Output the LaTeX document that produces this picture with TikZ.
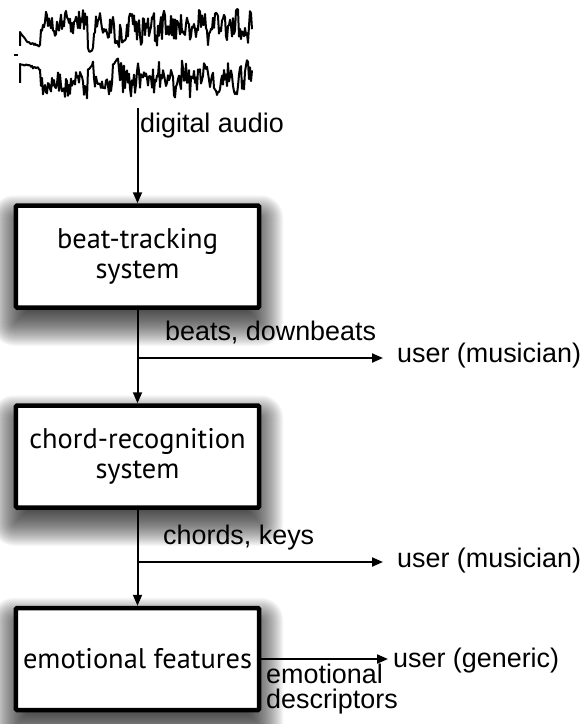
\documentclass[tikz,border=0pt]{standalone}
\usepackage{fontspec}
\setmainfont{Liberation Sans}
\newfontfamily\boxfont{PT Sans}
\usetikzlibrary{arrows.meta}
\pgfdeclarelayer{shadowlayer}
\pgfsetlayers{shadowlayer,main}

\tikzset{
  stage/.style={draw=black, line width=4.5bp, fill=white, rounded corners=1bp,
    minimum width=243bp, minimum height=102bp, inner sep=0pt, align=center,
    font=\boxfont\fontsize{28.5}{30}\selectfont},
  flow/.style={line width=2bp, -{Triangle[length=11bp,width=9bp]}},
  lbl/.style={font=\fontsize{27}{25}\selectfont, inner sep=0pt, anchor=base west},
  wave/.style={line width=2bp, line join=round},
}

% blurred drop shadow: stacked translucent rectangles from inset to outset
\newcommand\softshadow[1]{%
  \foreach \k [evaluate=\k as \r using {max(\k,0)+0.5}] in {-20,...,22}{%
    \fill[black, opacity=0.032, rounded corners=\r bp]
      ([shift={(-\k bp,-14bp-\k bp)}]#1.south west) rectangle
      ([shift={(\k bp,-14bp+\k bp)}]#1.north east);
  }%
}

\begin{document}
\begin{tikzpicture}[x=1bp, y=-1bp]
\useasboundingbox (0,0) rectangle (584,724);

% stereo waveform
\pgfmathsetseed{11}
\draw[wave] (14,55) -- (18,55);
\draw[wave] (20,46) -- (20,32)
  \foreach \x in {21,...,40}{ -- (\x,{47-15*exp(-(\x-20)/8)+1.2*rand}) }
  \foreach \a/\b/\l/\m in {41/87/24/10, 88/93/46/2, 94/114/26/9, 115/119/47/2,
                           120/140/28/12, 141/252/27/15}{
    \foreach \x in {\a,...,\b}{ -- (\x,{\l+\m*rand+5*sin(\x*21)}) }
  };
\draw[wave] (20,83) -- (20,64)
  \foreach \x in {21,...,40}{ -- (\x,{64+0.25*(\x-20)+1.2*rand}) }
  \foreach \a/\b/\l/\m in {41/87/84/10, 88/93/63/2, 94/112/84/9, 113/118/62/2,
                           119/252/80/15}{
    \foreach \x in {\a,...,\b}{ -- (\x,{\l+\m*rand+5*sin(\x*17+40)}) }
  };
\coordinate (src) at (137.5,108);

% processing stages
\node[stage] (bt) at (137.5,256.5) {beat-tracking\\system};
\node[stage] (cr) at (137.5,456.5) {chord-recognition\\system};
\node[stage] (ef) at (137.5,659) {emotional features};

\begin{pgfonlayer}{shadowlayer}
  \softshadow{bt}
  \softshadow{cr}
  \softshadow{ef}
\end{pgfonlayer}

% labels
\node[lbl] (da) at (140,133) {digital audio};
\node[lbl] (bd) at (165,340) {beats, downbeats};
\node[lbl] (u1) at (397,362) {user (musician)};
\node[lbl] (ck) at (163,544) {chords, keys};
\node[lbl] (u2) at (397,567) {user (musician)};
\node[lbl] (ug) at (393,667) {user (generic)};
\node[lbl] (ed1) at (266,683) {emotional};
\node[lbl] (ed2) at (266,708) {descriptors};

% connectors
\coordinate (j1) at (137.5,358);
\coordinate (j2) at (137.5,562);
\draw[flow] (src) -- (bt.north);
\draw[flow] (bt.south) -- (cr.north);
\draw[flow] (cr.south) -- (ef.north);
\draw[flow, shorten >=14bp] (j1) -- (j1 -| u1.west);
\draw[flow, shorten >=14bp] (j2) -- (j2 -| u2.west);
\draw[flow, shorten >=5bp] (ef.east) -- (ef.east -| ug.west);
\end{tikzpicture}
\end{document}
